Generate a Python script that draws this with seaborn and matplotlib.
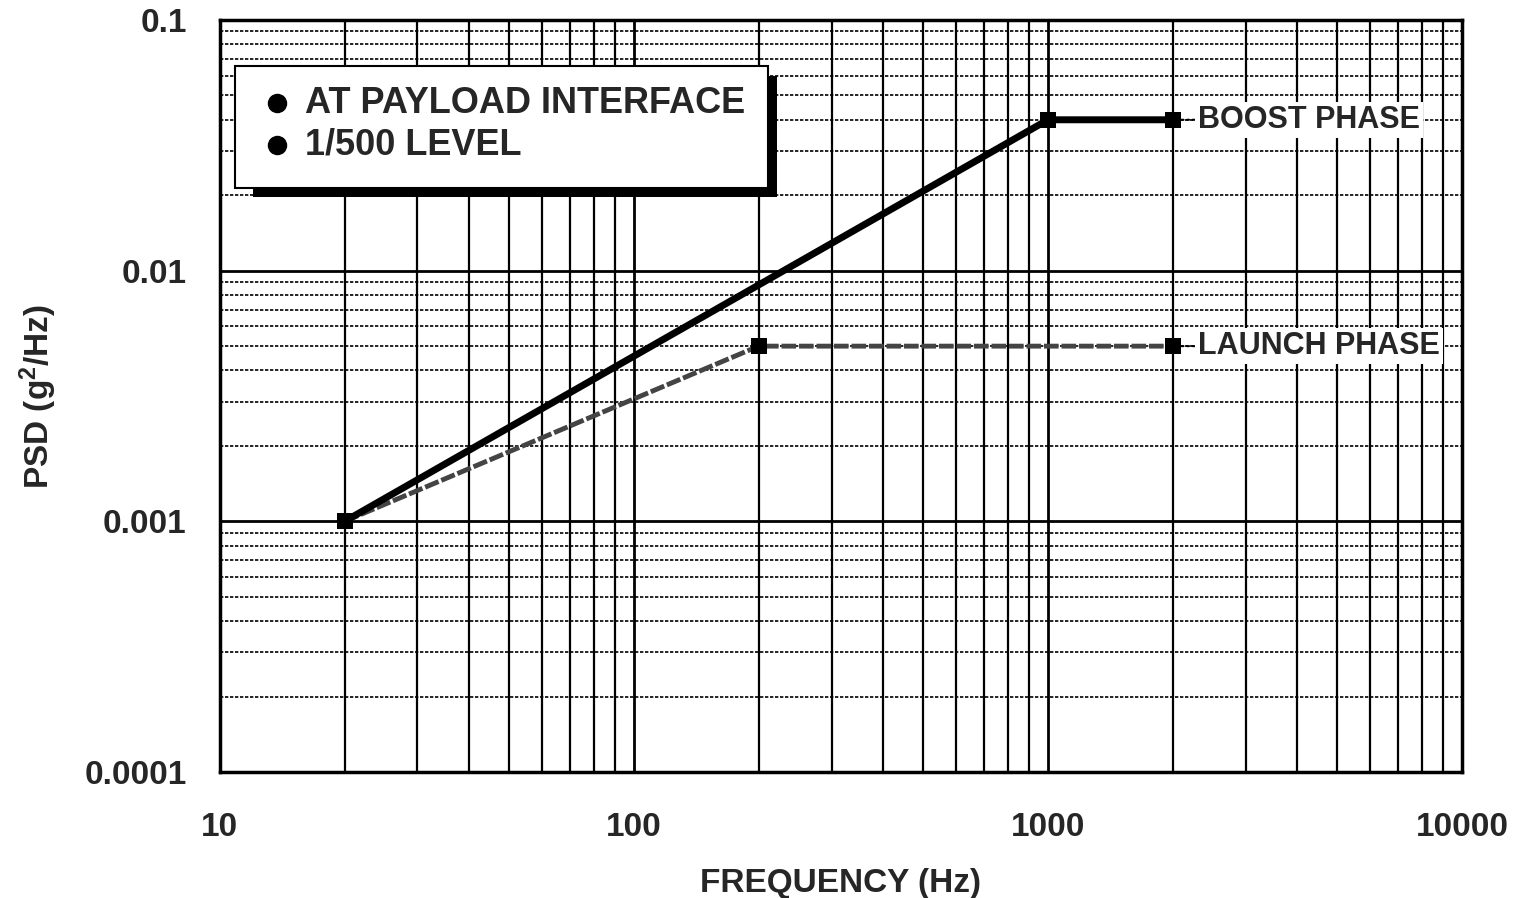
import numpy as np
import pandas as pd
import seaborn as sns
import matplotlib.pyplot as plt
from matplotlib.ticker import LogLocator, FixedLocator, NullFormatter

# data
boost_freq = [20, 1000, 2000]
boost_psd = [0.001, 0.04, 0.04]
launch_freq = [20, 200, 2000]
launch_psd = [0.001, 0.005, 0.005]
x_ticks = [10, 100, 1000, 10000]
x_labels = ["10", "100", "1000", "10000"]
y_ticks = [0.0001, 0.001, 0.01, 0.1]
y_labels = ["0.0001", "0.001", "0.01", "0.1"]
notes = ["AT PAYLOAD INTERFACE", "1/500 LEVEL"]

sns.set_style("white")
plt.rcParams['font.family'] = ['Liberation Sans', 'DejaVu Sans']
plt.rcParams['font.weight'] = 'bold'
plt.rcParams['mathtext.fontset'] = 'custom'
plt.rcParams['mathtext.bf'] = 'Liberation Sans:bold'

boost = pd.DataFrame({"freq": boost_freq, "psd": boost_psd})
launch = pd.DataFrame({"freq": launch_freq, "psd": launch_psd})

fig = plt.figure(figsize=(15.22, 8.98), dpi=100)
ax = fig.add_axes([0.1445, 0.1403, 0.8161, 0.8374])
ax.set_xscale("log")
ax.set_yscale("log")
ax.set_xlim(10, 10000)
ax.set_ylim(0.0001, 0.1)

# grid: solid majors and x minors, dotted y minors
ax.xaxis.set_minor_locator(LogLocator(base=10, subs=np.arange(2, 10)))
ax.yaxis.set_minor_locator(LogLocator(base=10, subs=np.arange(2, 10)))
ax.xaxis.set_minor_formatter(NullFormatter())
ax.yaxis.set_minor_formatter(NullFormatter())
ax.grid(True, which="major", color="black", lw=2)
ax.grid(True, which="minor", axis="x", color="black", lw=1.6)
ax.grid(True, which="minor", axis="y", color="black", lw=1.2, ls=(0, (2, 1)))
ax.set_axisbelow(True)

sns.lineplot(data=launch, x="freq", y="psd", ax=ax, color="#444444", lw=3.5,
             ls=(0, (3, 0.6)), marker="s", markersize=11, markeredgewidth=0,
             markerfacecolor="black", zorder=3)
sns.lineplot(data=boost, x="freq", y="psd", ax=ax, color="black", lw=5,
             marker="s", markersize=11, markeredgewidth=0, zorder=4)

# phase labels with dotted leader
for lbl, fx, py in [("BOOST PHASE", boost_freq[-1], boost_psd[-1]),
                    ("LAUNCH PHASE", launch_freq[-1], launch_psd[-1])]:
    ax.annotate(lbl, xy=(fx, py), xytext=(18, 0),
                textcoords="offset points", va="center", ha="left", fontsize=22,
                fontweight="bold",
                bbox=dict(boxstyle="square,pad=0.1", fc="white", ec="none"),
                arrowprops=dict(arrowstyle="-", ls=":", lw=1.5, color="black",
                                shrinkA=0, shrinkB=4), zorder=5)

# note box with shadow
shadow = plt.Rectangle((0.0266, 0.7646), 0.4219, 0.1609, transform=ax.transAxes,
                       fc="black", ec="none", zorder=5)
box = plt.Rectangle((0.0121, 0.7766), 0.429, 0.1622, transform=ax.transAxes,
                    fc="white", ec="black", lw=1.5, zorder=6)
ax.add_patch(shadow)
ax.add_patch(box)
for yy, note in zip([0.8896, 0.8338], notes):
    ax.plot(0.0459, yy, "o", color="black", markersize=13, transform=ax.transAxes,
            zorder=7)
    ax.text(0.0684, yy, note, transform=ax.transAxes, va="center", ha="left",
            fontsize=26, fontweight="bold", zorder=7)

ax.xaxis.set_major_locator(FixedLocator(x_ticks))
ax.yaxis.set_major_locator(FixedLocator(y_ticks))
ax.set_xticklabels(x_labels, fontsize=24, fontweight="bold")
ax.set_yticklabels(y_labels, fontsize=24, fontweight="bold")
ax.tick_params(which="major", length=15, width=2, direction="out", pad=9,
               color="black")
ax.tick_params(axis="x", which="major", pad=14)
ax.tick_params(which="minor", length=0)
for s in ax.spines.values():
    s.set_linewidth(2.5)
    s.set_color("black")

ax.set_xlabel("FREQUENCY (Hz)", fontsize=24, fontweight="bold", labelpad=18)
ax.set_ylabel("PSD (g$\\mathbf{^2}$/Hz)", fontsize=24, fontweight="bold", labelpad=18)

fig.savefig("out.png", dpi=100)
